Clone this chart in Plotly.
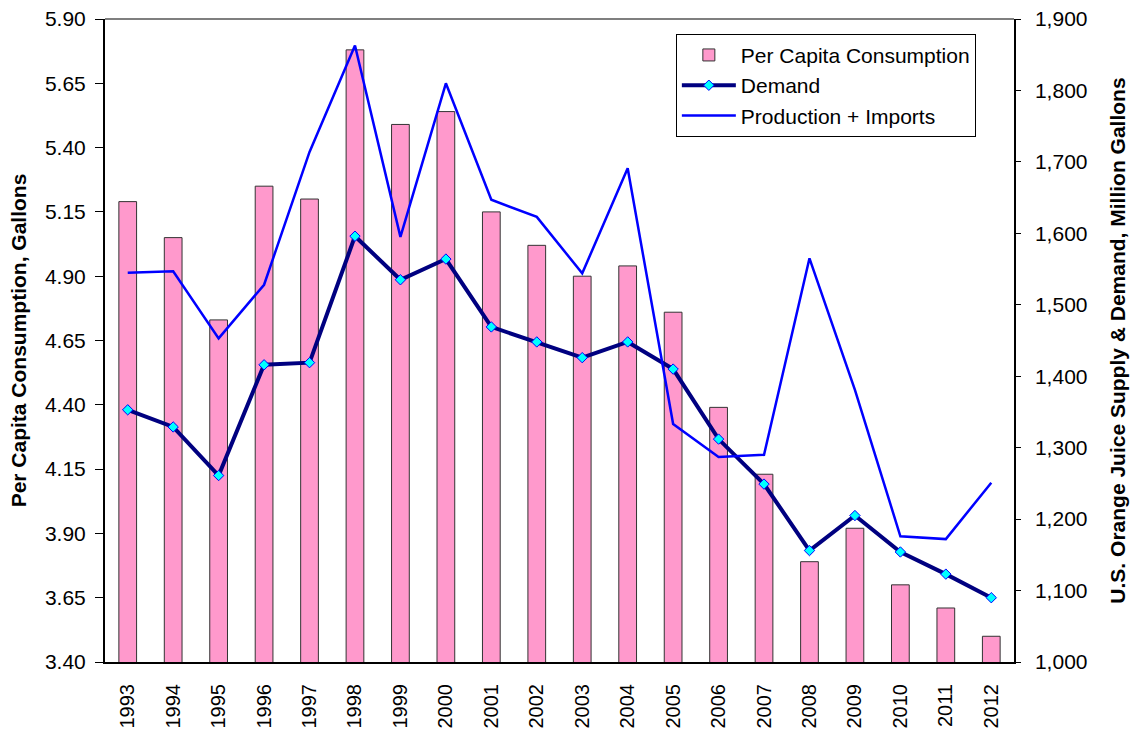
import plotly.graph_objects as go

years = [str(y) for y in range(1993, 2013)]
per_capita = [5.19, 5.05, 4.73, 5.25, 5.20, 5.78, 5.49, 5.54, 5.15, 5.02,
              4.90, 4.94, 4.76, 4.39, 4.13, 3.79, 3.92, 3.70, 3.61, 3.50]
demand = [1353, 1329, 1261, 1416, 1419, 1596, 1535, 1564, 1469, 1448,
          1426, 1448, 1410, 1312, 1249, 1156, 1205, 1154, 1123, 1090]
prod_imports = [1545, 1547, 1453, 1528, 1714, 1863, 1595, 1810, 1647, 1623,
                1544, 1691, 1333, 1287, 1290, 1565, 1381, 1176, 1172, 1251]

FONT = "Arial, Liberation Sans, sans-serif"

fig = go.Figure()
fig.add_trace(go.Bar(
    x=years, y=per_capita, name="Per Capita Consumption",
    marker=dict(color="#FF99CC", line=dict(color="#333333", width=1)),
    width=0.39, yaxis="y"))
fig.add_trace(go.Scatter(
    x=years, y=demand, name="Demand", mode="lines+markers", yaxis="y2",
    line=dict(color="#000080", width=4),
    marker=dict(symbol="diamond", size=8, color="#00FFFF",
                line=dict(color="#0000FF", width=1))))
fig.add_trace(go.Scatter(
    x=years, y=prod_imports, name="Production + Imports", mode="lines", yaxis="y2",
    line=dict(color="#0000FF", width=2.5)))

fig.update_layout(
    width=1136, height=731,
    margin=dict(l=105, r=122, t=19, b=69),
    paper_bgcolor="white", plot_bgcolor="white",
    font=dict(family=FONT, size=21, color="black"),
    showlegend=True,
    legend=dict(x=0.628, y=0.977, xanchor="left", yanchor="top",
                bgcolor="white", bordercolor="black", borderwidth=1,
                font=dict(family=FONT, size=21), itemwidth=54,
                tracegroupgap=0),
    xaxis=dict(type="category", range=[-0.5, 19.5], tickangle=-90,
               showline=True, linecolor="black", linewidth=2,
               ticks="outside", ticklen=12, tickcolor="rgba(0,0,0,0)",
               showgrid=False, automargin=False,
               tickfont=dict(family=FONT, size=20)),
    yaxis=dict(range=[3.40, 5.90], dtick=0.25, tick0=3.40, tickformat=".2f",
               showline=True, linecolor="black", linewidth=2,
               ticks="outside", ticklen=8, tickcolor="black",
               ticklabelstandoff=5,
               showgrid=False, zeroline=False, automargin=False,
               tickfont=dict(family=FONT, size=21),
               title=dict(text="<b>Per Capita Consumption, Gallons</b>",
                          font=dict(family=FONT, size=21), standoff=13)),
    yaxis2=dict(range=[1000, 1900], dtick=100, tickformat=",",
                overlaying="y", side="right",
                showline=True, linecolor="black", linewidth=1.5,
                ticks="outside", ticklen=5, tickcolor="black",
                ticklabelstandoff=10,
                showgrid=False, zeroline=False, automargin=False,
                tickfont=dict(family=FONT, size=21),
                title=dict(text="<b>U.S. Orange Juice Supply & Demand, Million Gallons</b>",
                           font=dict(family=FONT, size=21), standoff=24)),
    shapes=[dict(type="line", xref="paper", yref="paper", x0=0, x1=1, y0=1, y1=1,
                 line=dict(color="#555555", width=1.5))],
)

fig.write_html("out.html", config={"displayModeBar": False},
               post_script="document.body.style.margin='0px';")
